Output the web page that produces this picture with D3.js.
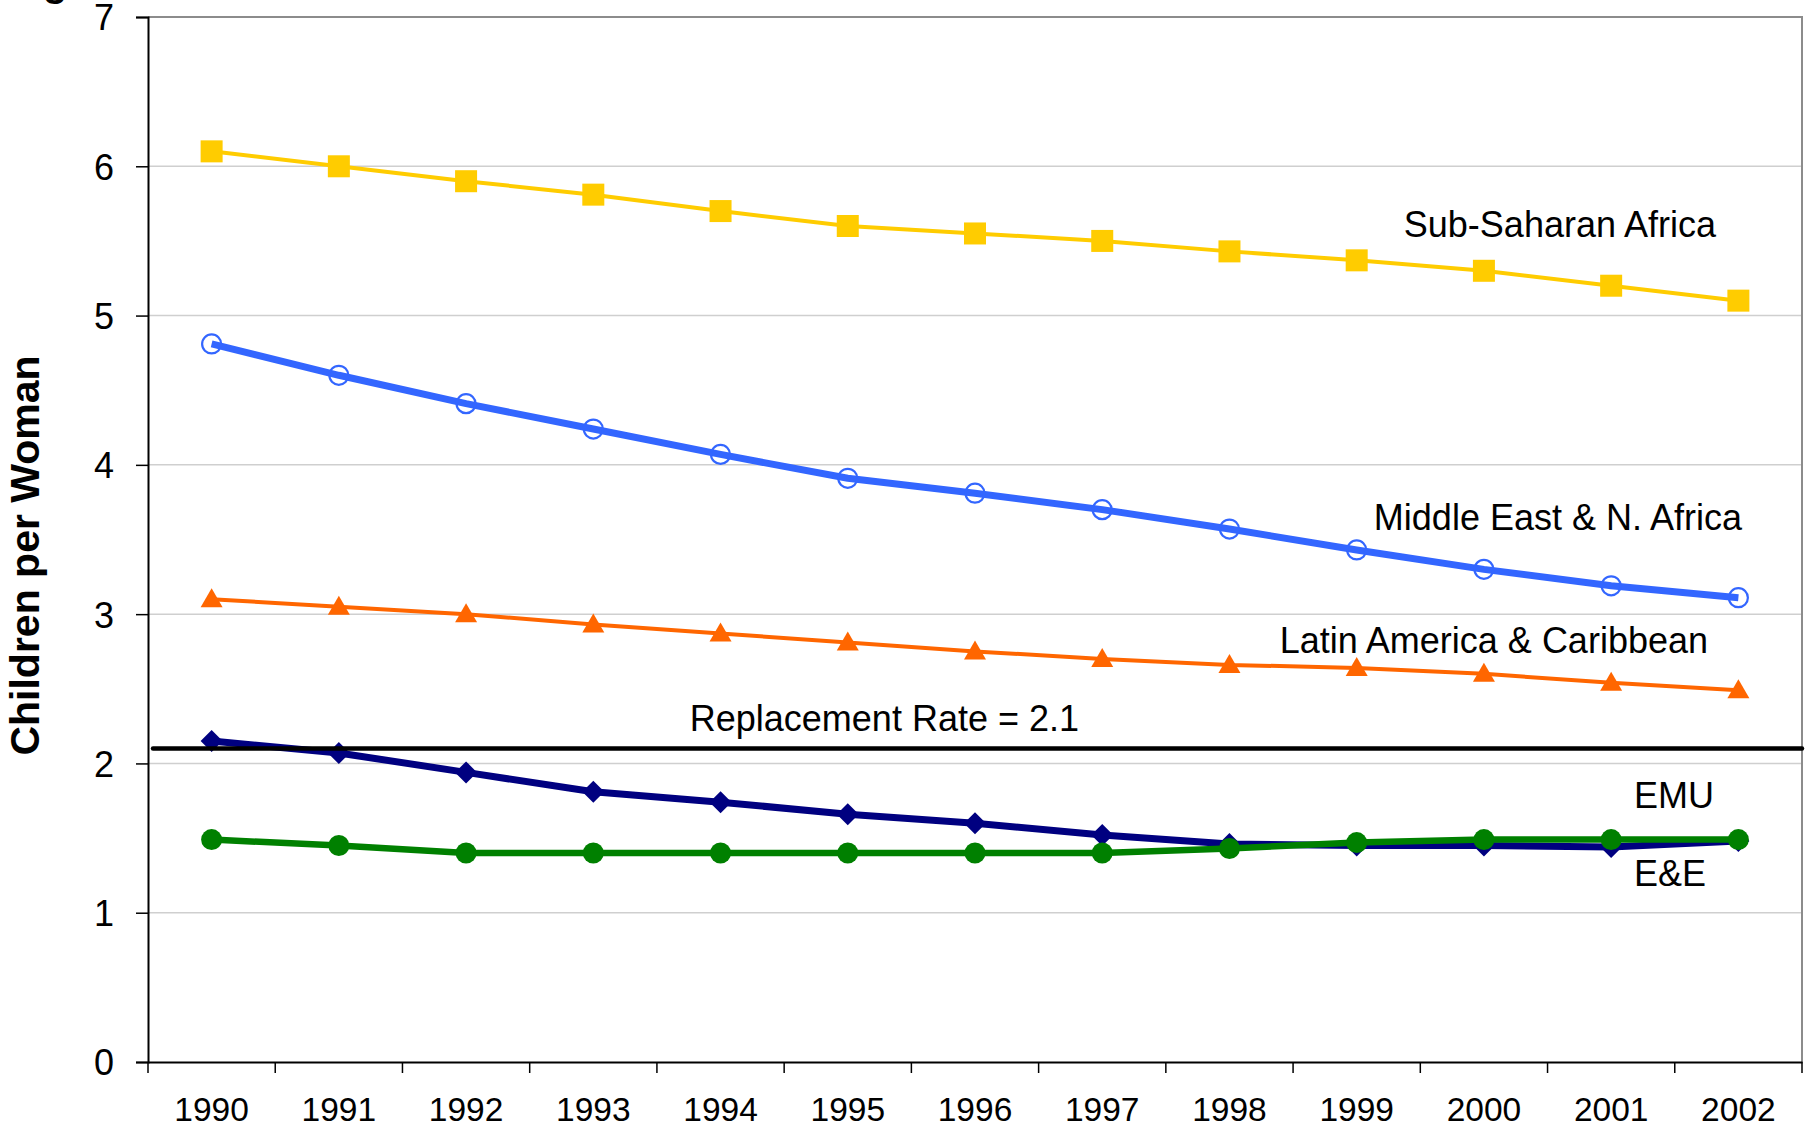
<!DOCTYPE html>
<html>
<head>
<meta charset="utf-8">
<script src="https://cdn.jsdelivr.net/npm/d3@7"></script>
<style>
  html, body { margin: 0; padding: 0; background: #fff; }
  svg { display: block; font-family: "Liberation Sans", Arial, sans-serif; }
</style>
</head>
<body>
<svg id="chart" width="1810" height="1125"></svg>
<script>
const years = ["1990", "1991", "1992", "1993", "1994", "1995", "1996", "1997", "1998", "1999", "2000", "2001", "2002"];
const yTicks = [0, 1, 2, 3, 4, 5, 6, 7];

const subSaharan = [6.10, 6.00, 5.90, 5.81, 5.70, 5.60, 5.55, 5.50, 5.43, 5.37, 5.30, 5.20, 5.10];
const middleEast = [4.81, 4.60, 4.41, 4.24, 4.07, 3.91, 3.81, 3.70, 3.57, 3.43, 3.30, 3.19, 3.11];
const latinAmerica = [3.10, 3.05, 3.00, 2.93, 2.87, 2.81, 2.75, 2.70, 2.66, 2.64, 2.60, 2.54, 2.49];
const eAndE = [2.15, 2.07, 1.94, 1.81, 1.74, 1.66, 1.60, 1.52, 1.46, 1.45, 1.45, 1.44, 1.48];
const emu = [1.49, 1.45, 1.40, 1.40, 1.40, 1.40, 1.40, 1.40, 1.43, 1.47, 1.49, 1.49, 1.49];
const replacementRate = 2.1;

const svg = d3.select("#chart"),
      margin = {top: 17, right: 8, bottom: 63, left: 148},
      width = +svg.attr("width"),
      height = +svg.attr("height");

const x = d3.scaleBand().domain(years).range([margin.left, width - margin.right]).padding(0);
const y = d3.scaleLinear().domain([0, 7]).range([height - margin.bottom, margin.top]);

// gridlines
svg.append("g")
    .selectAll("line")
    .data(yTicks.slice(1, -1))
    .join("line")
    .attr("x1", margin.left)
    .attr("x2", width - margin.right)
    .attr("y1", d => y(d))
    .attr("y2", d => y(d))
    .attr("stroke", "#cfcfcf")
    .attr("stroke-width", 1.5);

// plot border top / right (grey)
svg.append("path")
    .attr("d", `M${margin.left},${y(7)}H${width - margin.right}V${y(0)}`)
    .attr("fill", "none")
    .attr("stroke", "#8c8c8c")
    .attr("stroke-width", 2);

// y axis
const yAxis = svg.append("g")
    .attr("transform", `translate(${margin.left},0)`)
    .call(d3.axisLeft(y).tickValues(yTicks).tickSize(12).tickPadding(22).tickFormat(d3.format("d")));
yAxis.select(".domain").attr("stroke", "#000").attr("stroke-width", 2);
yAxis.selectAll(".tick line").attr("stroke", "#000").attr("stroke-width", 1.5);
yAxis.selectAll("text").attr("font-size", 36).attr("fill", "#000")
    .attr("font-family", "Liberation Sans, Arial, sans-serif").attr("dy", "0.36em");

// x axis: labels at band centres, ticks at band boundaries
const xAxis = svg.append("g")
    .attr("transform", `translate(0,${y(0)})`)
    .call(d3.axisBottom(x).tickSize(0).tickPadding(35));
xAxis.select(".domain").attr("stroke", "#000").attr("stroke-width", 2);
xAxis.selectAll("text").attr("font-size", 33.5).attr("fill", "#000")
    .attr("font-family", "Liberation Sans, Arial, sans-serif");

svg.append("g")
    .selectAll("line")
    .data(d3.range(years.length + 1))
    .join("line")
    .attr("x1", i => margin.left + i * x.step())
    .attr("x2", i => margin.left + i * x.step())
    .attr("y1", y(0))
    .attr("y2", y(0) + 11)
    .attr("stroke", "#000")
    .attr("stroke-width", 1.5);

// y axis title
svg.append("text")
    .attr("transform", `translate(${39},${(y(0) + y(7)) / 2 + 16}) rotate(-90)`)
    .attr("text-anchor", "middle")
    .attr("font-size", 41)
    .attr("font-weight", "bold")
    .text("Children per Woman");

// clipped fragment of the title above the chart
svg.append("text")
    .attr("x", 43)
    .attr("y", -4)
    .attr("font-size", 40)
    .attr("font-weight", "bold")
    .text("g");

const cx = (d, i) => x(years[i]) + x.bandwidth() / 2;
const line = d3.line().x((d, i) => cx(d, i)).y(d => y(d));

const series = [
    {name: "Sub-Saharan Africa", values: subSaharan, color: "#FFCC00", width: 4, marker: "square"},
    {name: "Middle East & N. Africa", values: middleEast, color: "#3366FF", width: 7, marker: "ring"},
    {name: "Latin America & Caribbean", values: latinAmerica, color: "#FF6600", width: 4, marker: "triangle"},
    {name: "E&E", values: eAndE, color: "#000080", width: 7, marker: "diamond"},
    {name: "EMU", values: emu, color: "#008000", width: 6.5, marker: "circle"}
];

series.forEach(s => {
    svg.append("path")
        .datum(s.values)
        .attr("d", line)
        .attr("fill", "none")
        .attr("stroke", s.color)
        .attr("stroke-width", s.width)
        .attr("stroke-linejoin", "round");

    const g = svg.append("g");
    if (s.marker === "square") {
        g.selectAll("rect").data(s.values).join("rect")
            .attr("x", (d, i) => cx(d, i) - 11)
            .attr("y", d => y(d) - 11)
            .attr("width", 22).attr("height", 22)
            .attr("fill", s.color);
    } else if (s.marker === "ring") {
        g.selectAll("circle").data(s.values).join("circle")
            .attr("cx", cx).attr("cy", d => y(d)).attr("r", 9.5)
            .attr("fill", "none").attr("stroke", s.color).attr("stroke-width", 2.2);
    } else if (s.marker === "circle") {
        g.selectAll("circle").data(s.values).join("circle")
            .attr("cx", cx).attr("cy", d => y(d)).attr("r", 10.5)
            .attr("fill", s.color);
    } else if (s.marker === "triangle") {
        g.selectAll("path").data(s.values).join("path")
            .attr("d", (d, i) => {
                const px = cx(d, i), py = y(d);
                return `M${px},${py - 11}L${px + 11},${py + 8}L${px - 11},${py + 8}Z`;
            })
            .attr("fill", s.color);
    } else if (s.marker === "diamond") {
        g.selectAll("path").data(s.values).join("path")
            .attr("d", (d, i) => {
                const px = cx(d, i), py = y(d);
                return `M${px},${py - 11}L${px + 11},${py}L${px},${py + 11}L${px - 11},${py}Z`;
            })
            .attr("fill", s.color);
    }
});

// replacement rate line
svg.append("line")
    .attr("x1", margin.left + 5)
    .attr("x2", width - margin.right)
    .attr("y1", y(replacementRate))
    .attr("y2", y(replacementRate))
    .attr("stroke", "#000")
    .attr("stroke-width", 4.5)
    .attr("stroke-linecap", "round");

// annotations
const labels = [
    {text: "Sub-Saharan Africa", x: 1716, y: 237},
    {text: "Middle East & N. Africa", x: 1742, y: 530},
    {text: "Latin America & Caribbean", x: 1708, y: 653},
    {text: "Replacement Rate = 2.1", x: 1079, y: 731},
    {text: "EMU", x: 1714, y: 808},
    {text: "E&E", x: 1706, y: 886}
];
svg.append("g")
    .selectAll("text")
    .data(labels)
    .join("text")
    .attr("x", d => d.x)
    .attr("y", d => d.y)
    .attr("text-anchor", "end")
    .attr("font-size", 36)
    .attr("fill", "#000")
    .text(d => d.text);
</script>
</body>
</html>
